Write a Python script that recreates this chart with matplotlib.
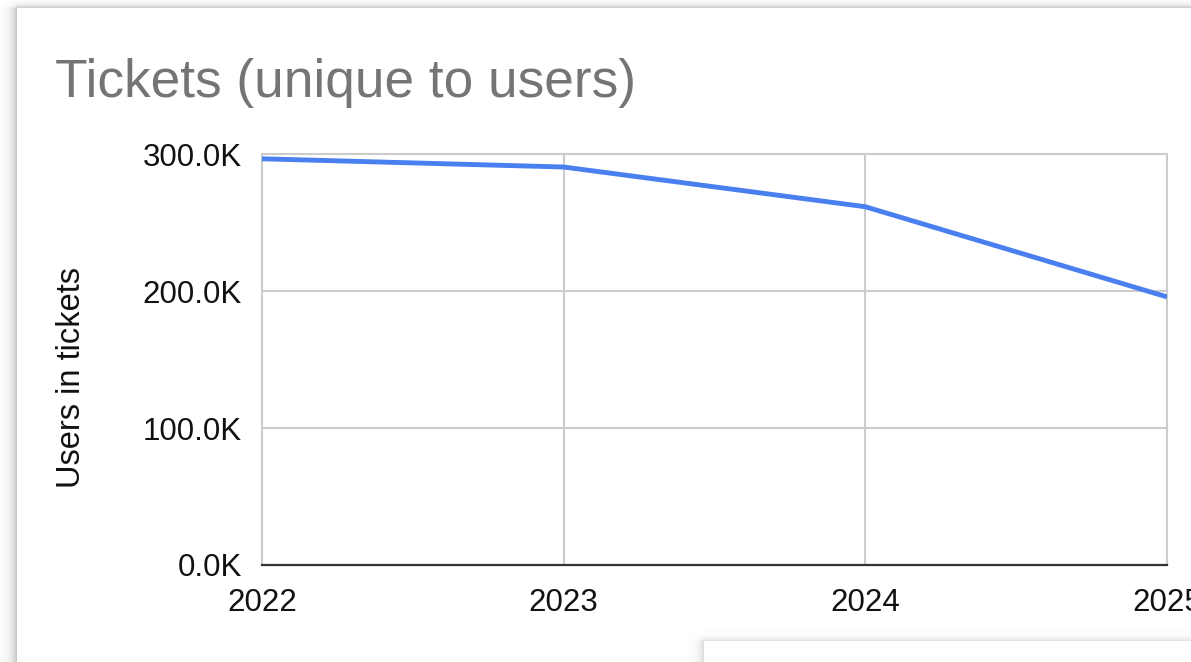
import numpy as np
import matplotlib
matplotlib.use("Agg")
import matplotlib.pyplot as plt
from matplotlib.ticker import FuncFormatter

plt.rcParams["font.family"] = ["Liberation Sans", "DejaVu Sans"]

# Data
years = [2022, 2023, 2024, 2025]
users_in_tickets = [296500, 290500, 261500, 195700]
y_ticks = [0, 100000, 200000, 300000]
title = "Tickets (unique to users)"
y_label = "Users in tickets"

W, H = 1191, 662
fig = plt.figure(figsize=(W / 100, H / 100), dpi=100)
fig.patch.set_facecolor("white")

# Card background with soft drop shadows
yy, xx = np.mgrid[0:H, 0:W].astype(float)
cx, cy = 17, 8
dl = np.clip(cx - xx, 0, None)
dt = np.clip(cy - yy, 0, None)
left_sh = 0.26 * np.exp(-dl / 5.5) * np.exp(-dt / 3.0)
top_sh = 0.07 * np.exp(-dt / 3.5) * (xx >= cx)
outside = (xx < cx) | (yy < cy)
shade = np.where(outside, np.maximum(left_sh, top_sh), 0.0)
# second card peeking in at the bottom
c2x, c2y = 704, 641
dl2 = np.clip(c2x - xx, 0, None)
dt2 = np.clip(c2y - yy, 0, None)
sh2 = np.maximum(0.16 * np.exp(-dl2 / 5.0) * np.exp(-dt2 / 3.0) * (dl2 < 18),
                 0.06 * np.exp(-dt2 / 4.0) * (xx >= c2x) * (dt2 < 14))
out2 = ((xx < c2x) | (yy < c2y)) & (xx > c2x - 18) & (yy > c2y - 14)
shade = np.where(out2 & ~outside, np.maximum(shade, sh2), shade)
bg = np.dstack([1 - shade] * 3)
bg_ax = fig.add_axes([0, 0, 1, 1], zorder=-10)
bg_ax.imshow(bg, extent=(0, W, H, 0), aspect="auto", interpolation="bilinear")
bg_ax.set_axis_off()

# Plot area
left, right, top, bottom = 262, 1167, 154, 565
ax = fig.add_axes([left / W, 1 - bottom / H, (right - left) / W, (bottom - top) / H])
ax.set_facecolor("none")
ax.plot(years, users_in_tickets, color="#4a7ff0", lw=3.5, solid_capstyle="butt",
        solid_joinstyle="round", zorder=3)
ax.set_xlim(years[0], years[-1])
ax.set_ylim(0, 300000)
ax.set_xticks(years)
ax.set_yticks(y_ticks)
ax.yaxis.set_major_formatter(FuncFormatter(lambda v, p: f"{v / 1000:.1f}K"))
ax.grid(True, color="#cccccc", lw=1.5)
for gl in ax.get_xgridlines() + ax.get_ygridlines():
    gl.set_clip_on(False)
for s in ["top", "right", "left"]:
    ax.spines[s].set_visible(False)
ax.spines["bottom"].set_color("#333333")
ax.spines["bottom"].set_linewidth(1.6)
ax.spines["bottom"].set_zorder(4)
ax.tick_params(axis="both", length=0, labelsize=22.5, colors="#111111")
ax.tick_params(axis="y", pad=14.5)
ax.tick_params(axis="x", pad=16.5)
for lbl in ax.get_xticklabels():
    lbl.set_clip_on(False)

fig.text(55 / W, 1 - 97 / H, title, fontsize=38.3, color="#757575",
         ha="left", va="baseline")
fig.text(72 / W, 1 - 377.5 / H, y_label, fontsize=23.5, color="#111111",
         rotation=90, ha="center", va="center")

fig.savefig("out.png", dpi=100, facecolor="white")
